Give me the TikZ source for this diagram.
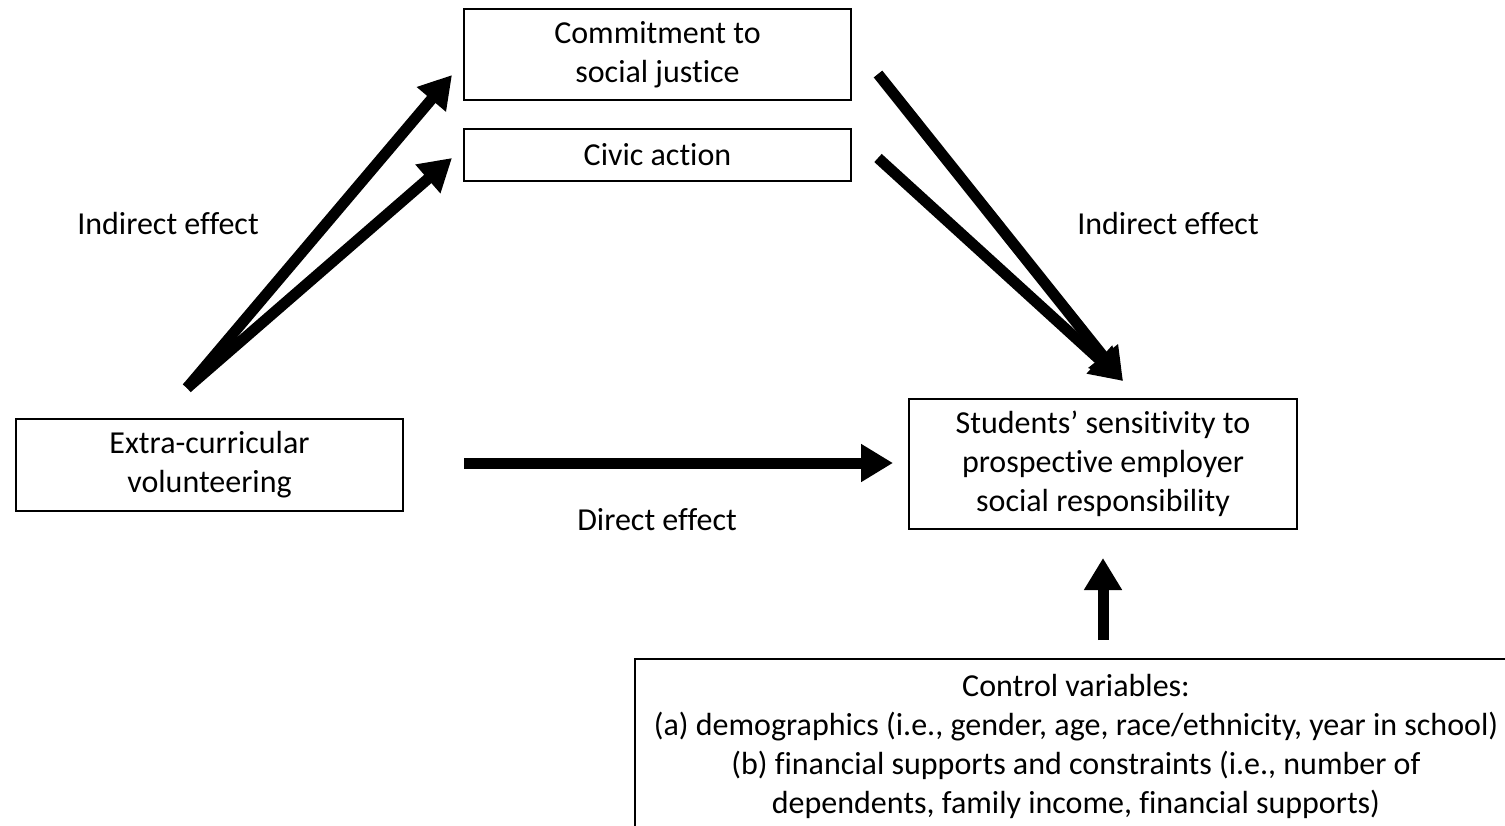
\documentclass[tikz,border=0pt]{standalone}
\usepackage{fontspec}
\setmainfont{Carlito}[Ligatures=NoCommon]
\usetikzlibrary{arrows.meta}

\begin{document}
\begin{tikzpicture}[x=0.5pt, y=-0.5pt,
    varbox/.style={draw, line width=0.75pt, align=center, inner sep=0pt,
      minimum width=193.5pt, font=\fontsize{16}{19.5}\selectfont},
    effect/.style={font=\fontsize{16}{19.5}\selectfont},
    bigarrow/.style={line width=5.5pt, -{Triangle[length=16pt, width=18pt]}}]
    \useasboundingbox (0,0) rectangle (1505,825);
    \clip (0,0) rectangle (1505,825);
    \begin{scope}
      \node[varbox, minimum height=45.5pt] (commit) at (657.5,54.5) {Commitment to\\social justice};
      \node[varbox, minimum height=26pt] (civic) at (657.5,155) {Civic action};
      \node[varbox, minimum height=46pt] (volunteer) at (209.5,465) {Extra-curricular\\volunteering};
      \node[varbox, minimum width=194pt, minimum height=65pt] (sensitivity) at (1103,464) {Students’ sensitivity to\\prospective employer\\social responsibility};
      \node[varbox, minimum width=441pt, minimum height=87pt] (controls) at (1076,746) {Control variables:\\(a) demographics (i.e., gender, age, race/ethnicity, year in school)\\(b) financial supports and constraints (i.e., number of\\dependents, family income, financial supports)};
      \node[effect] (leftlabel) at (168,224) {Indirect effect};
      \node[effect] (rightlabel) at (1168,224) {Indirect effect};
      \node[effect] (directlabel) at (657,520) {Direct effect};
      \coordinate (fork) at (187,388);
      \coordinate (commitin) at (452,75);
      \coordinate (civicin) at (452,158);
      \coordinate (commitout) at (878,74);
      \coordinate (civicout) at (878,158);
      \coordinate (join) at (1123,381);
      \coordinate (directout) at (464,463);
      \coordinate (directin) at (893,463);
      \coordinate (controlout) at (1103,640);
      \coordinate (controlin) at (1103,558);
      \draw[bigarrow] (fork) -- (commitin);
      \draw[bigarrow] (fork) -- (civicin);
      \draw[bigarrow] (commitout) -- (join);
      \draw[bigarrow] (civicout) -- (join);
      \draw[bigarrow] (directout) -- (directin);
      \draw[bigarrow] (controlout) -- (controlin);
    \end{scope}
  \end{tikzpicture}
\end{document}
